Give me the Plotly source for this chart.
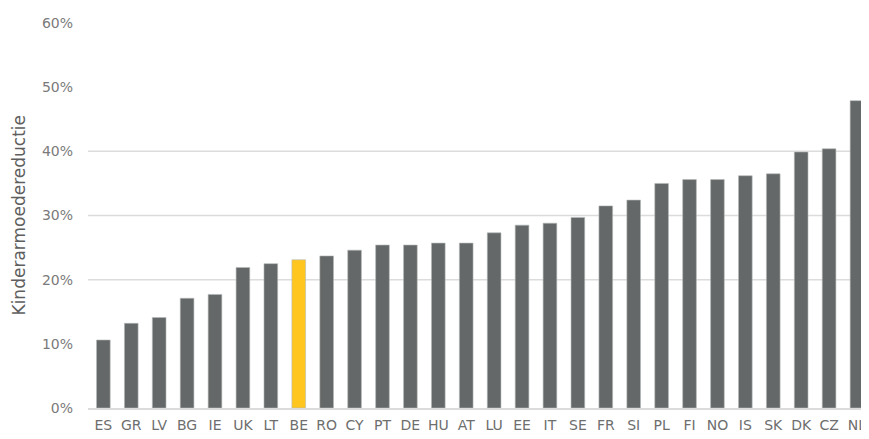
import plotly.graph_objects as go

countries = ["ES", "GR", "LV", "BG", "IE", "UK", "LT", "BE", "RO", "CY", "PT", "DE",
             "HU", "AT", "LU", "EE", "IT", "SE", "FR", "SI", "PL", "FI", "NO", "IS",
             "SK", "DK", "CZ", "NL"]
values = [10.6, 13.2, 14.1, 17.1, 17.7, 21.9, 22.5, 23.1, 23.7, 24.6, 25.4, 25.4,
          25.7, 25.7, 27.3, 28.5, 28.8, 29.7, 31.5, 32.4, 35.0, 35.6, 35.6, 36.2,
          36.5, 39.9, 40.4, 47.9]
highlight = "BE"
y_ticks = [0, 10, 20, 30, 40, 50, 60]
grid_levels = [20, 30, 40]
y_title = "Kinderarmoedereductie"

GRAY = "#656868"
YELLOW = "#FFC620"
FONT = "DejaVu Sans, Liberation Sans, Arial, sans-serif"

colors = [YELLOW if c == highlight else GRAY for c in countries]

fig = go.Figure(go.Bar(
    x=countries, y=values,
    marker=dict(color=colors, line=dict(color="#b5b8b8", width=0.6)),
    hoverinfo="x+y",
))

for g in grid_levels:
    fig.add_shape(type="line", xref="paper", yref="y", x0=0, x1=1, y0=g, y1=g,
                  line=dict(color="#dcdcdc", width=1.5), layer="below")

# page body has an 8px margin, so the figure is offset by 8px
W, H = 861, 431
L, R, T, B = 80, 0, 15, 31
plot_w = W - L - R

fig.add_annotation(
    text=y_title, textangle=-90, xref="paper", yref="paper",
    x=(10 - L) / plot_w, y=0.5, xanchor="center", yanchor="middle",
    showarrow=False, font=dict(family=FONT, size=17, color="#5e5e5e"),
)

n = len(countries)
fig.update_layout(
    width=W, height=H,
    margin=dict(l=L, r=R, t=T, b=B),
    paper_bgcolor="white", plot_bgcolor="white",
    bargap=0.51,
    showlegend=False,
    font=dict(family=FONT, color="#777777", size=14),
)
fig.update_xaxes(
    range=[-0.55, n - 1 + 0.43], automargin=False,
    showgrid=False, showline=True, linecolor="#dcdcdc", linewidth=1.5,
    ticks="", tickfont=dict(family=FONT, size=14, color="#6e6e6e"),
    tickangle=0, ticklabelstandoff=3,
)
fig.update_yaxes(
    range=[0, 60], tickvals=y_ticks, ticktext=[f"{v}%" for v in y_ticks],
    automargin=False,
    showgrid=False, zeroline=False, showline=False, ticks="",
    ticklabelstandoff=14,
    tickfont=dict(family=FONT, size=14, color="#7a7a7a"),
)

fig.write_html("out.html")
